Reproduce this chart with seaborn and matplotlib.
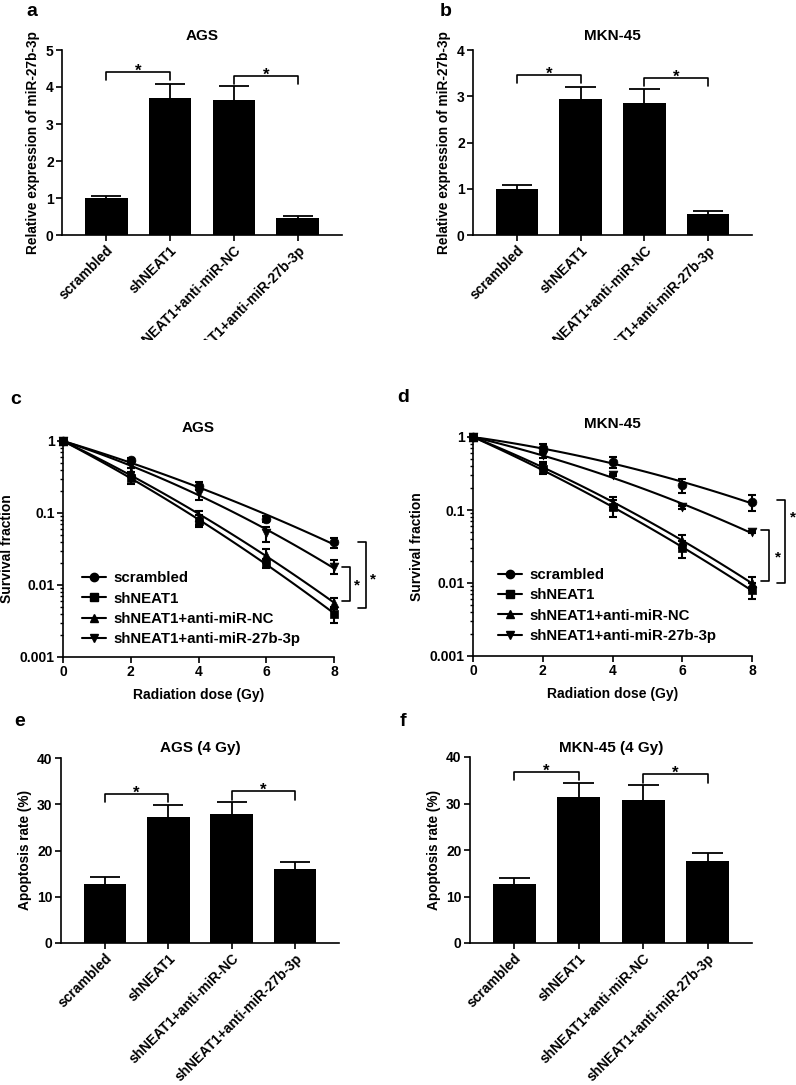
import numpy as np
import matplotlib
matplotlib.use('Agg')
import matplotlib.pyplot as plt
from matplotlib.lines import Line2D
from matplotlib.ticker import LogLocator, NullFormatter
from matplotlib.transforms import Bbox, TransformedBbox
import seaborn as sns

sns.set_theme(style='ticks')
plt.rcParams['font.family'] = ['Liberation Sans', 'DejaVu Sans']
plt.rcParams['font.weight'] = 'bold'
plt.rcParams['axes.labelweight'] = 'bold'
plt.rcParams['axes.titleweight'] = 'bold'
plt.rcParams['axes.linewidth'] = 1.2
plt.rcParams['text.color'] = 'black'
plt.rcParams['axes.labelcolor'] = 'black'
plt.rcParams['xtick.color'] = 'black'
plt.rcParams['ytick.color'] = 'black'
plt.rcParams['axes.edgecolor'] = 'black'

# --- data ---
groups = ['scrambled', 'shNEAT1', 'shNEAT1+anti-miR-NC', 'shNEAT1+anti-miR-27b-3p']

# a, b: relative expression of miR-27b-3p
expr_ags = [1.0, 3.70, 3.65, 0.45]
expr_ags_err = [0.06, 0.38, 0.37, 0.06]
expr_mkn = [1.0, 2.93, 2.86, 0.45]
expr_mkn_err = [0.09, 0.28, 0.30, 0.07]

# c, d: survival fraction vs dose
dose = [0, 2, 4, 6, 8]
ags_scr = [1, 0.54, 0.24, 0.082, 0.039]
ags_sh = [1, 0.31, 0.078, 0.020, 0.0040]
ags_nc = [1, 0.37, 0.088, 0.026, 0.0057]
ags_27b = [1, 0.47, 0.19, 0.052, 0.018]
ags_scr_err = [0, 0.04, 0.03, 0.008, 0.006]
ags_sh_err = [0, 0.06, 0.015, 0.003, 0.001]
ags_nc_err = [0, 0.05, 0.02, 0.006, 0.001]
ags_27b_err = [0, 0.05, 0.04, 0.012, 0.004]

mkn_scr = [1, 0.71, 0.46, 0.22, 0.128]
mkn_sh = [1, 0.37, 0.109, 0.030, 0.0080]
mkn_nc = [1, 0.41, 0.124, 0.038, 0.010]
mkn_27b = [1, 0.56, 0.30, 0.109, 0.050]
mkn_scr_err = [0, 0.10, 0.08, 0.05, 0.03]
mkn_sh_err = [0, 0.06, 0.03, 0.008, 0.002]
mkn_nc_err = [0, 0.05, 0.025, 0.008, 0.002]
mkn_27b_err = [0, 0.05, 0.01, 0.005, 0.002]

# e, f: apoptosis rate at 4 Gy
apo_ags = [12.8, 27.3, 28.0, 15.9]
apo_ags_err = [1.4, 2.5, 2.5, 1.6]
apo_mkn = [12.7, 31.4, 30.7, 17.7]
apo_mkn_err = [1.3, 3.1, 3.2, 1.7]

W, H = 796, 1085
fig = plt.figure(figsize=(W / 100, H / 100), dpi=100)


def px_axes(l, t, r, b):
    return fig.add_axes([l / W, 1 - b / H, (r - l) / W, (b - t) / H])


def style_ax(ax):
    sns.despine(ax=ax)
    ax.tick_params(direction='out', length=4, width=1.2, labelsize=10, pad=2)
    for lab in ax.get_xticklabels() + ax.get_yticklabels():
        lab.set_fontweight('bold')


def bar_panel(ax, vals, errs, ymax, step, ylabel, title, brackets, title_pad, clip_y=None):
    sns.barplot(x=groups, y=vals, color='black', saturation=1, width=0.67,
                errorbar=None, edgecolor='black', linewidth=0, ax=ax)
    # upper-only error bars (SEM)
    xs = np.arange(len(vals))
    tops = np.array(vals) + np.array(errs)
    ax.vlines(xs, vals, tops, color='black', lw=1.3)
    ax.hlines(tops, xs - 0.24, xs + 0.24, color='black', lw=1.3)
    ax.set_xlim(-0.69, 3.69)
    ax.set_ylim(0, ymax)
    ax.set_yticks(np.arange(0, ymax + step / 2, step))
    ax.set_ylabel(ylabel, fontsize=9.8)
    ax.set_xlabel('')
    ax.set_title(title, fontsize=11, pad=title_pad)
    style_ax(ax)
    ax.set_xticks(range(4))
    ax.set_xticklabels(groups, rotation=45, ha='right', va='top',
                       rotation_mode='anchor', fontsize=10, fontweight='bold')
    for i, j, ytop, drop in brackets:
        ax.plot([i, i, j, j], [ytop - drop, ytop, ytop, ytop - drop],
                color='black', lw=1.2, clip_on=False)
        ax.annotate('*', xy=((i + j) / 2, ytop), xytext=(0, -2.5),
                    textcoords='offset points', ha='center', va='baseline',
                    fontsize=12)
    if clip_y is not None:
        box = TransformedBbox(Bbox([[0, 1 - clip_y / H], [1, 1]]), fig.transFigure)
        for lab in ax.get_xticklabels():
            lab.set_clip_box(box)
            lab.set_clip_on(True)


def surv_panel(ax, series, title, legend_anchor, brackets, stars):
    markers = ['o', 's', '^', 'v']
    ax.set_yscale('log')
    d = np.array(dose, dtype=float)
    grid = np.linspace(0, 8, 120)
    for (vals, errs), m in zip(series, markers):
        # linear-quadratic fit through S(0)=1
        A = np.column_stack([d, d ** 2])
        coef, *_ = np.linalg.lstsq(A, np.log(vals), rcond=None)
        fit = np.exp(coef[0] * grid + coef[1] * grid ** 2)
        sns.lineplot(x=grid, y=fit, color='black', lw=1.5, ax=ax)
        ax.errorbar(dose, vals, yerr=errs, fmt='none', ecolor='black',
                    elinewidth=1.5, capsize=3, capthick=1.5, clip_on=False)
        sns.scatterplot(x=dose, y=vals, marker=m, s=40, color='black',
                        edgecolor='black', linewidth=0.5, ax=ax, zorder=5)
        ax.collections[-1].set_clip_on(False)
    ax.set_xlim(0, 8)
    ax.set_ylim(0.001, 1)
    ax.set_xticks([0, 2, 4, 6, 8])
    ax.set_yticks([0.001, 0.01, 0.1, 1])
    ax.set_yticklabels(['0.001', '0.01', '0.1', '1'])
    ax.yaxis.set_minor_locator(LogLocator(base=10, subs=np.arange(2, 10)))
    ax.yaxis.set_minor_formatter(NullFormatter())
    ax.set_xlabel('Radiation dose (Gy)', fontsize=10, labelpad=6)
    ax.set_ylabel('Survival fraction', fontsize=10)
    ax.set_title(title, fontsize=11, pad=6.5)
    style_ax(ax)
    ax.tick_params(which='minor', direction='out', length=2.5, width=1.0)
    handles = [Line2D([], [], color='black', marker=m, lw=1.5, ms=6) for m in markers]
    ax.legend(handles, groups, loc='lower left', bbox_to_anchor=legend_anchor,
              frameon=False, prop={'size': 10.8, 'weight': 'bold'},
              handlelength=1.6, handletextpad=0.5, labelspacing=0.42,
              borderaxespad=0, borderpad=0)
    for x, y0, y1, tick in brackets:
        ax.plot([x - tick, x, x, x - tick], [y0, y0, y1, y1], color='black',
                lw=1.2, clip_on=False)
    for x, y in stars:
        ax.text(x, y, '*', ha='center', va='center', fontsize=11, clip_on=False)


# a
ax_a = px_axes(62, 50, 342, 235)
bar_panel(ax_a, expr_ags, expr_ags_err, 5, 1, 'Relative expression of miR-27b-3p',
          'AGS', [(0, 1, 4.4, 0.2), (2, 3, 4.3, 0.22)], 7, clip_y=340)

# b
ax_b = px_axes(473, 50, 752, 235)
bar_panel(ax_b, expr_mkn, expr_mkn_err, 4, 1, 'Relative expression of miR-27b-3p',
          'MKN-45', [(0, 1, 3.46, 0.18), (2, 3, 3.39, 0.17)], 7, clip_y=340)

# c
ax_c = px_axes(63, 441, 334, 657)
surv_panel(ax_c,
           [(ags_scr, ags_scr_err), (ags_sh, ags_sh_err),
            (ags_nc, ags_nc_err), (ags_27b, ags_27b_err)],
           'AGS', (0.07, 0.05),
           [(8.46, 0.006, 0.018, 0.23), (8.94, 0.0048, 0.039, 0.23)],
           [(8.69, 0.0098), (9.14, 0.012)])

# d
ax_d = px_axes(473, 437, 752, 656)
surv_panel(ax_d,
           [(mkn_scr, mkn_scr_err), (mkn_sh, mkn_sh_err),
            (mkn_nc, mkn_nc_err), (mkn_27b, mkn_27b_err)],
           'MKN-45', (0.09, 0.06),
           [(8.48, 0.0105, 0.053, 0.22), (8.94, 0.010, 0.135, 0.22)],
           [(8.74, 0.0224), (9.17, 0.08)])

# e
ax_e = px_axes(61, 758, 339, 943)
bar_panel(ax_e, apo_ags, apo_ags_err, 40, 10, 'Apoptosis rate (%)',
          'AGS (4 Gy)', [(0, 1, 32.2, 1.8), (2, 3, 32.8, 1.9)], 4)

# f
ax_f = px_axes(470, 757, 752, 943)
bar_panel(ax_f, apo_mkn, apo_mkn_err, 40, 10, 'Apoptosis rate (%)',
          'MKN-45 (4 Gy)', [(0, 1, 36.8, 1.8), (2, 3, 36.3, 1.9)], 3.5)

# panel letters
for letter, x, y in [('a', 32, 12), ('b', 446, 12), ('c', 16, 400),
                     ('d', 403, 398), ('e', 20, 722), ('f', 403, 722)]:
    fig.text(x / W, 1 - y / H, letter, fontsize=14, fontweight='bold',
             ha='center', va='center')

fig.savefig('out.png', dpi=100)
